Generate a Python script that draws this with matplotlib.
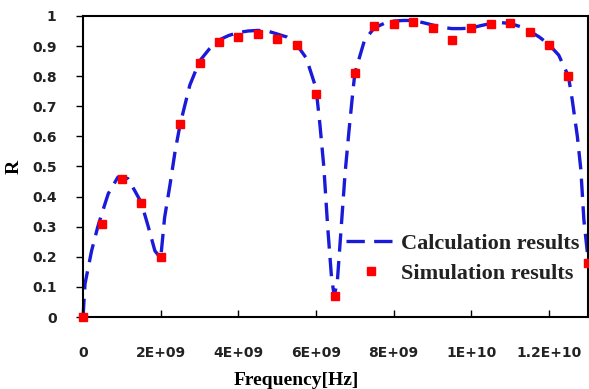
import matplotlib
matplotlib.use("Agg")
import matplotlib.pyplot as plt
import numpy as np

# simulation points (every 0.5 GHz)
sim_freq = np.arange(0, 13.01e9, 0.5e9)
sim_R = [0.0, 0.31, 0.46, 0.38, 0.20, 0.64, 0.845, 0.915, 0.93, 0.94,
         0.925, 0.905, 0.74, 0.07, 0.81, 0.965, 0.972, 0.981, 0.96, 0.92,
         0.96, 0.972, 0.976, 0.946, 0.904, 0.80, 0.18]

# calculated curve
calc_freq = np.array([0.0, 0.05, 0.22, 0.38, 0.5, 0.65, 0.9, 1.15, 1.33, 1.5,
                      1.68, 1.85, 2.0, 2.1, 2.24, 2.37, 2.5, 2.75, 3.0, 3.25,
                      3.5, 3.75, 4.0, 4.25, 4.5, 4.75, 5.0, 5.25, 5.5, 5.75,
                      6.0, 6.1, 6.2, 6.3, 6.4, 6.47, 6.55, 6.65, 6.75, 6.85,
                      6.95, 7.0, 7.25, 7.5, 7.75, 8.0, 8.25, 8.5, 8.75, 9.0,
                      9.25, 9.5, 9.75, 10.0, 10.25, 10.5, 10.75, 11.0, 11.25, 11.5,
                      11.75, 12.0, 12.25, 12.5, 12.6, 12.73, 12.82, 12.9, 13.0]) * 1e9
calc_R = [0.0, 0.11, 0.22, 0.30, 0.35, 0.41, 0.465, 0.46, 0.42, 0.38,
          0.30, 0.22, 0.195, 0.33, 0.44, 0.55, 0.64, 0.77, 0.85, 0.89,
          0.92, 0.935, 0.945, 0.95, 0.952, 0.95, 0.94, 0.93, 0.905, 0.86,
          0.76, 0.64, 0.50, 0.30, 0.13, 0.07, 0.12, 0.30, 0.48, 0.62,
          0.75, 0.81, 0.92, 0.96, 0.975, 0.983, 0.985, 0.985, 0.978, 0.97,
          0.962, 0.958, 0.958, 0.96, 0.968, 0.975, 0.978, 0.975, 0.965, 0.95,
          0.93, 0.905, 0.87, 0.80, 0.72, 0.60, 0.49, 0.32, 0.20]

xticks = [0, 2e9, 4e9, 6e9, 8e9, 1e10, 1.2e10]
xticklabels = ["0", "2E+09", "4E+09", "6E+09", "8E+09", "1E+10", "1.2E+10"]
yticks = np.arange(0, 1.01, 0.1)
yticklabels = ["0", "0.1", "0.2", "0.3", "0.4", "0.5", "0.6", "0.7", "0.8", "0.9", "1"]

fig = plt.figure(figsize=(5.89, 3.89), dpi=100)
ax = fig.add_axes([0.141, 0.185, 0.857, 0.774])

ax.plot(calc_freq, calc_R, color=(0.1, 0.1, 0.85), lw=2.4, dashes=(5.5, 2.8),
        label="Calculation results", clip_on=False)
ax.plot(sim_freq, sim_R, ls="none", marker="s", ms=6, color="red",
        label="Simulation results", zorder=3, clip_on=False)

ax.set_xlim(0, 1.3e10)
ax.set_ylim(0, 1)
ax.set_xticks(xticks)
ax.set_xticklabels(xticklabels)
ax.set_yticks(yticks)
ax.set_yticklabels(yticklabels)
ax.tick_params(axis="x", direction="in", length=5, width=1, pad=21, labelsize=10)
ax.tick_params(axis="y", direction="out", length=5, width=1, pad=14, labelsize=10)
for lab in ax.get_xticklabels() + ax.get_yticklabels():
    lab.set_fontweight("bold")
    lab.set_color("#222222")
for sp in ax.spines.values():
    sp.set_linewidth(1.5)

ax.set_xlabel("Frequency[Hz]", family="Liberation Serif", fontweight="bold", fontsize=14)
ax.xaxis.set_label_coords(0.423, -0.183)
ax.set_ylabel("R", family="Liberation Serif", fontweight="bold", fontsize=14)
ax.yaxis.set_label_coords(-0.119, 0.5)

leg = ax.legend(loc="center left", bbox_to_anchor=(0.482, 0.194), frameon=False,
                prop={"family": "Liberation Serif", "weight": "bold", "size": 16},
                handlelength=2.25, handletextpad=0.23, labelspacing=0.4,
                markerscale=1.0, numpoints=1)
for t in leg.get_texts():
    t.set_color("#222222")

fig.savefig("out.png", dpi=100)
